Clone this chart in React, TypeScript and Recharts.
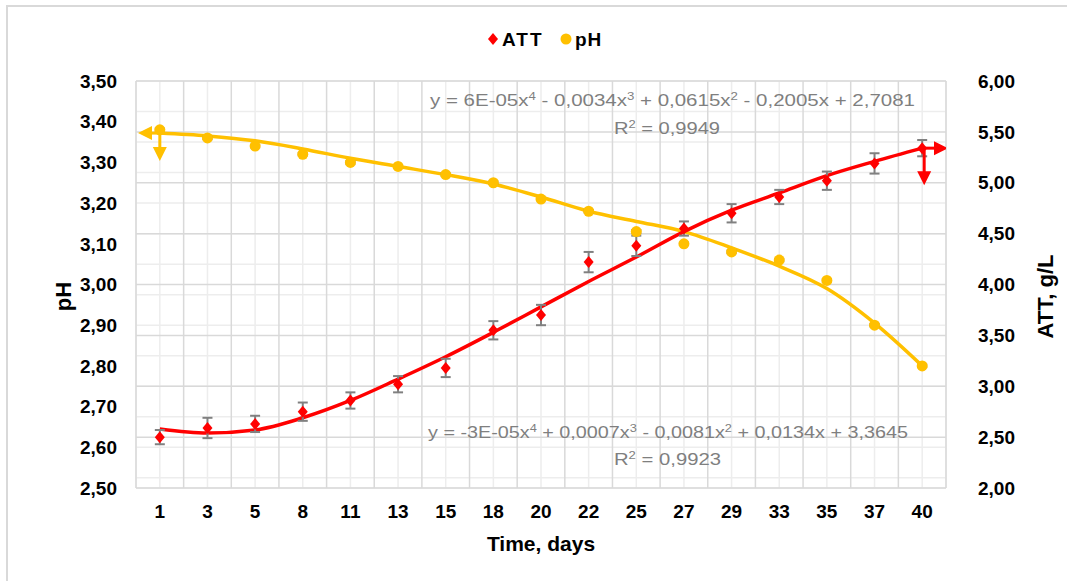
import React from 'react';
import { ComposedChart, Line, XAxis, YAxis, CartesianGrid, ErrorBar } from 'recharts';

// sampling days (category axis)
const days = ['1', '3', '5', '8', '11', '13', '15', '18', '20', '22', '25', '27', '29', '33', '35', '37', '40'];

// measured values
const phValues = [3.38, 3.36, 3.34, 3.32, 3.30, 3.29, 3.27, 3.25, 3.21, 3.18, 3.13, 3.10, 3.08, 3.06, 3.01, 2.90, 2.80];
const phErrors = [0.003, 0.003, 0.003, 0.003, 0.003, 0.003, 0.003, 0.003, 0.003, 0.003, 0.004, 0.003, 0.003, 0.003, 0.003, 0.003, 0.003];
const attValues = [2.50, 2.59, 2.63, 2.75, 2.86, 3.02, 3.18, 3.55, 3.70, 4.22, 4.38, 4.55, 4.70, 4.86, 5.02, 5.19, 5.34];
const attErrors = [0.07, 0.10, 0.08, 0.09, 0.08, 0.08, 0.09, 0.09, 0.10, 0.10, 0.10, 0.07, 0.09, 0.07, 0.09, 0.10, 0.08];

// trend lines
const phTrend = [3.372, 3.365, 3.353, 3.333, 3.31, 3.29, 3.27, 3.247, 3.215, 3.18, 3.155, 3.13, 3.09, 3.045, 2.99, 2.905, 2.80];
const attTrend = [2.58, 2.54, 2.57, 2.69, 2.86, 3.07, 3.29, 3.53, 3.78, 4.03, 4.27, 4.52, 4.73, 4.90, 5.07, 5.21, 5.34];

const phTicks = [2.5, 2.6, 2.7, 2.8, 2.9, 3.0, 3.1, 3.2, 3.3, 3.4, 3.5];
const attTicks = [2, 2.5, 3, 3.5, 4, 4.5, 5, 5.5, 6];
const attMinorTicks = Array.from({ length: 41 }, (_, i) => 2 + i * 0.1);
const centerTicks = days.map((_, i) => i + 1);
const edgeTicks = [...days.map((_, i) => i + 0.5), days.length + 0.5];

const rows = days.map((d, i) => ({
  idx: i + 1,
  day: d,
  ph: phValues[i],
  phErr: phErrors[i],
  att: attValues[i],
  attErr: attErrors[i],
  phTrend: phTrend[i],
  attTrend: attTrend[i],
}));

const YELLOW = '#ffc000';
const RED = '#ff0000';
const GRID_MAJOR = '#d9d9d9';
const GRID_MINOR = '#ededed';
const EQ_GRAY = '#7f7f7f';

const fmt = (v: number) => v.toFixed(2).replace('.', ',');

const head = (x: number, y: number, dir: 'left' | 'right' | 'down', color: string) => {
  const s = 14, w = 7;
  let pts = '';
  if (dir === 'left') pts = `${x},${y} ${x + s},${y - w} ${x + s},${y + w}`;
  if (dir === 'right') pts = `${x},${y} ${x - s},${y - w} ${x - s},${y + w}`;
  if (dir === 'down') pts = `${x},${y} ${x - w},${y - s} ${x + w},${y - s}`;
  return <polygon points={pts} fill={color} />;
};

const halfStep = (p: any) =>
  p.points && p.points.length > 1 ? (p.points[1].x - p.points[0].x) / 2 : 23.8;

const phTrendDot = (p: any) => {
  if (p.index !== 0) return <g key={`pt-${p.index}`} />;
  const h = halfStep(p);
  return (
    <g key={`pt-${p.index}`}>
      <line x1={p.cx} y1={p.cy} x2={p.cx - h + 10} y2={p.cy} stroke={YELLOW} strokeWidth={3} />
      {head(p.cx - h + 2, p.cy, 'left', YELLOW)}
      <line x1={p.cx} y1={p.cy} x2={p.cx} y2={p.cy + 18} stroke={YELLOW} strokeWidth={3} />
      {head(p.cx, p.cy + 28, 'down', YELLOW)}
    </g>
  );
};

const attTrendDot = (p: any) => {
  if (p.index !== days.length - 1) return <g key={`at-${p.index}`} />;
  const h = halfStep(p);
  return (
    <g key={`at-${p.index}`}>
      <line x1={p.cx} y1={p.cy} x2={p.cx + h - 10} y2={p.cy} stroke={RED} strokeWidth={3} />
      {head(p.cx + h + 2, p.cy, 'right', RED)}
      <line x1={p.cx + 2} y1={p.cy} x2={p.cx + 2} y2={p.cy + 27} stroke={RED} strokeWidth={3} />
      {head(p.cx + 2, p.cy + 37, 'down', RED)}
    </g>
  );
};

const diamondDot = (p: any) => (
  <polygon
    key={`ad-${p.index}`}
    points={`${p.cx},${p.cy - 6} ${p.cx + 5},${p.cy} ${p.cx},${p.cy + 6} ${p.cx - 5},${p.cy}`}
    fill={RED}
  />
);

const tickStyle = { fill: '#000', fontSize: 19, fontWeight: 700 };

const Sup = ({ t }: { t: string }) => (
  <tspan baselineShift="super" fontSize={11}>{t}</tspan>
);

export default function App() {
  return (
    <div
      style={{
        position: 'absolute', left: 0, top: 0, width: 1067, height: 581,
        background: '#fff', fontFamily: '"Liberation Sans", Arial, sans-serif', overflow: 'hidden',
      }}
    >
      <div style={{ position: 'absolute', left: 6, top: 5, right: -4, bottom: -4, borderLeft: '2px solid #d9d9d9', borderTop: '2px solid #d9d9d9' }} />
      <ComposedChart width={1067} height={581} data={rows} margin={{ top: 81, right: 0, bottom: 0, left: 0 }}>
        <CartesianGrid xAxisId="main" yAxisId="minor" vertical={false} stroke={GRID_MINOR} strokeWidth={1.5} />
        <CartesianGrid xAxisId="main" yAxisId="att" horizontal={false} stroke={GRID_MINOR} strokeWidth={1.5} />
        <CartesianGrid xAxisId="edges" yAxisId="att" vertical={false} stroke={GRID_MAJOR} strokeWidth={1.5} />
        <CartesianGrid xAxisId="edges" yAxisId="att" horizontal={false} stroke={GRID_MAJOR} strokeWidth={1.5} />

        <XAxis
          xAxisId="edges" type="number" dataKey="idx" domain={[0.5, days.length + 0.5]} allowDataOverflow
          ticks={edgeTicks} tickFormatter={() => ''} height={0} tickSize={5}
          tickLine={{ stroke: GRID_MAJOR, strokeWidth: 1.5 }} axisLine={{ stroke: GRID_MAJOR, strokeWidth: 1.5 }}
        />
        <XAxis
          xAxisId="main" type="number" dataKey="idx" domain={[0.5, days.length + 0.5]} allowDataOverflow
          ticks={centerTicks} tickFormatter={(v: number) => days[v - 1] ?? ''} interval={0}
          height={93} axisLine={false} tickLine={false} tickSize={0} tickMargin={17} tick={tickStyle}
          label={{ value: 'Time, days', position: 'insideBottom', offset: 30, fill: '#000', fontSize: 21, fontWeight: 700 }}
        />
        <YAxis
          yAxisId="ph" orientation="left" domain={[2.5, 3.5]} ticks={phTicks} allowDataOverflow
          width={136} axisLine={false} tickLine={false} tickSize={0} tickMargin={19} tick={tickStyle}
          tickFormatter={fmt} interval={0}
          label={{
            content: (lp: any) => {
              const vb = lp.viewBox;
              const x = vb.x + 63, y = vb.y + vb.height / 2 + 12;
              return (
                <text x={x} y={y} transform={`rotate(-90 ${x} ${y})`} textAnchor="middle" dominantBaseline="central"
                  fontSize={22} fontWeight={700} fill="#000">pH</text>
              );
            },
          }}
        />
        <YAxis
          yAxisId="att" orientation="right" domain={[2, 6]} ticks={attTicks} allowDataOverflow
          width={121} axisLine={false} tickLine={false} tickSize={0} tickMargin={32} tick={tickStyle}
          tickFormatter={fmt} interval={0}
          label={{
            content: (lp: any) => {
              const vb = lp.viewBox;
              const x = vb.x + 99, y = vb.y + vb.height / 2 + 12;
              return (
                <text x={x} y={y} transform={`rotate(-90 ${x} ${y})`} textAnchor="middle" dominantBaseline="central"
                  fontSize={22} fontWeight={700} fill="#000">ATT, g/L</text>
              );
            },
          }}
        />
        <YAxis yAxisId="minor" orientation="right" domain={[2, 6]} ticks={attMinorTicks} allowDataOverflow hide />

        <Line
          xAxisId="main" yAxisId="ph" dataKey="phTrend" type="monotone" stroke={YELLOW} strokeWidth={3.5}
          dot={phTrendDot} activeDot={false} isAnimationActive={false}
        />
        <Line
          xAxisId="main" yAxisId="att" dataKey="attTrend" type="monotone" stroke={RED} strokeWidth={3.5}
          dot={attTrendDot} activeDot={false} isAnimationActive={false}
        />
        <Line
          xAxisId="main" yAxisId="att" dataKey="att" stroke="none" dot={diamondDot} activeDot={false}
          isAnimationActive={false}
        >
          <ErrorBar dataKey="attErr" width={5} stroke="#808080" strokeWidth={2} direction="y" />
        </Line>
        <Line
          xAxisId="main" yAxisId="ph" dataKey="ph" stroke="none"
          dot={{ r: 5.5, fill: YELLOW, stroke: YELLOW, strokeWidth: 0 }} activeDot={false}
          isAnimationActive={false}
        >
          <ErrorBar dataKey="phErr" width={5} stroke="#808080" strokeWidth={2} direction="y" />
        </Line>
      </ComposedChart>

      <svg width={1067} height={581} style={{ position: 'absolute', left: 0, top: 0, pointerEvents: 'none' }}>
        {/* legend */}
        <polygon points="493,33 498,39 493,45 488,39" fill={RED} />
        <text x={502} y={46} fontSize={19} fontWeight={700} letterSpacing={2} fill="#000">ATT</text>
        <circle cx={566} cy={39} r={5.5} fill={YELLOW} />
        <text x={575} y={46} fontSize={19} fontWeight={700} letterSpacing={1} fill="#000">pH</text>

        {/* trendline equations */}
        <g fill={EQ_GRAY} fontSize={17} fontFamily='"Liberation Sans Narrow", "Liberation Sans", sans-serif'>
          <text x={430} y={106} textLength={485} lengthAdjust="spacingAndGlyphs">
            {'y = 6E-05x'}<Sup t="4" />{' - 0,0034x'}<Sup t="3" />{' + 0,0615x'}<Sup t="2" />{' - 0,2005x + 2,7081'}
          </text>
          <text x={614} y={134} textLength={106} lengthAdjust="spacingAndGlyphs">
            {'R'}<Sup t="2" />{' = 0,9949'}
          </text>
          <text x={428} y={438} textLength={480} lengthAdjust="spacingAndGlyphs">
            {'y = -3E-05x'}<Sup t="4" />{' + 0,0007x'}<Sup t="3" />{' - 0,0081x'}<Sup t="2" />{' + 0,0134x + 3,3645'}
          </text>
          <text x={614} y={465} textLength={107} lengthAdjust="spacingAndGlyphs">
            {'R'}<Sup t="2" />{' = 0,9923'}
          </text>
        </g>
      </svg>
    </div>
  );
}
